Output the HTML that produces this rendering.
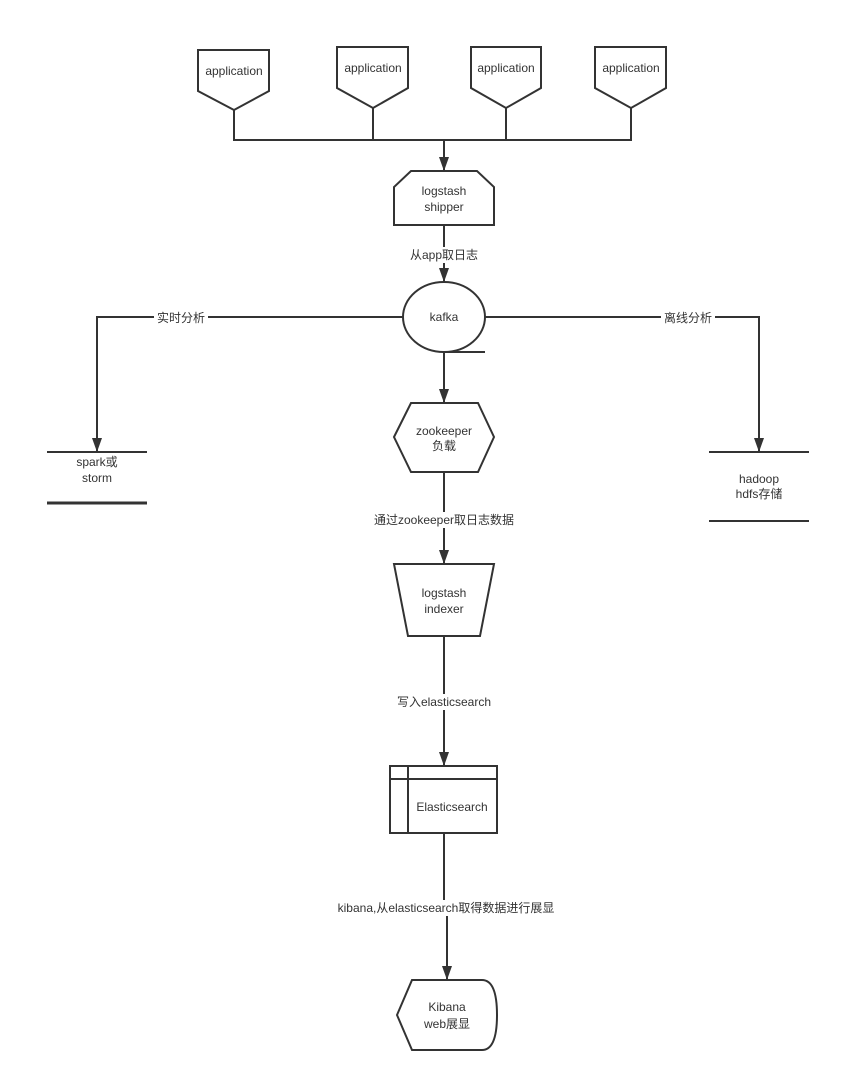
<!DOCTYPE html>
<html><head><meta charset="utf-8"><style>
html,body{margin:0;padding:0;background:#fff;}
svg{display:block;}
text{font-family:"Liberation Sans","Noto Sans CJK SC",sans-serif;font-size:12px;fill:#333;text-anchor:middle;}
</style></head><body>
<svg width="841" height="1082" viewBox="0 0 841 1082" xmlns="http://www.w3.org/2000/svg">
<defs><marker id="a" markerWidth="10" markerHeight="14" refX="5" refY="14" orient="auto" markerUnits="userSpaceOnUse"><path d="M0,0 L10,0 L5,14 Z" fill="#333"/></marker>
<marker id="ad" markerWidth="14" markerHeight="10" refX="14" refY="5" orient="auto" markerUnits="userSpaceOnUse" viewBox="0 0 14 10"><path d="M0,0 L14,5 L0,10 Z" fill="#333"/></marker></defs>
<g stroke="#333" stroke-width="2" fill="#fff">
<!-- apps -->
<path d="M198,50 H269 V91 L234,110 L198,91 Z"/>
<path d="M337,47 H408 V88 L373,108 L337,88 Z"/>
<path d="M471,47 H541 V88 L506,108 L471,88 Z"/>
<path d="M595,47 H666 V88 L631,108 L595,88 Z"/>
<path d="M234,110 V140 H631 V108 M373,108 V140 M506,108 V140" fill="none"/>
<path d="M444,140 V171" fill="none" marker-end="url(#ad)"/>
<!-- shipper -->
<path d="M411,171 H477 L494,187 V225 H394 V187 Z"/>
<path d="M444,225 V282" fill="none" marker-end="url(#ad)"/>
<!-- kafka -->
<ellipse cx="444" cy="317" rx="41" ry="35"/>
<path d="M444,352 H485" fill="none"/>
<path d="M444,352 V403" fill="none" marker-end="url(#ad)"/>
<path d="M403,317 H97 V452" fill="none" marker-end="url(#ad)"/>
<path d="M485,317 H759 V452" fill="none" marker-end="url(#ad)"/>
<path d="M47,452 H147" fill="none"/>
<path d="M47,503 H147" fill="none" stroke-width="3"/>
<path d="M709,452 H809 M709,521 H809" fill="none"/>
<!-- zookeeper -->
<path d="M394,437 L411,403 H478 L494,437 L478,472 H411 Z"/>
<path d="M444,472 V564" fill="none" marker-end="url(#ad)"/>
<!-- indexer -->
<path d="M394,564 H494 L480,636 H408 Z"/>
<path d="M444,636 V766" fill="none" marker-end="url(#ad)"/>
<!-- elasticsearch -->
<rect x="390" y="766" width="107" height="67"/>
<path d="M390,779 H497 M408,766 V833" fill="none"/>
<path d="M444,833 V908 M447,908 V980" fill="none"/>
<path d="M447,940 V980" fill="none" marker-end="url(#ad)"/>
<!-- kibana -->
<path d="M412,980 H482 Q497,980 497,1015 Q497,1050 482,1050 H412 L397,1015 Z"/>
</g>
<text x="234" y="75">application</text>
<text x="373" y="72">application</text>
<text x="506" y="72">application</text>
<text x="631" y="72">application</text>
<text x="444" y="195">logstash</text>
<text x="444" y="211">shipper</text>
<rect x="404" y="247" width="80" height="16" fill="#fff"/>
<text x="444" y="259">从app取日志</text>
<text x="444" y="321">kafka</text>
<rect x="154" y="310" width="54" height="16" fill="#fff"/>
<text x="181" y="322">实时分析</text>
<rect x="661" y="310" width="54" height="16" fill="#fff"/>
<text x="688" y="322">离线分析</text>
<text x="97" y="466">spark或</text>
<text x="97" y="482">storm</text>
<text x="759" y="483">hadoop</text>
<text x="759" y="498">hdfs存储</text>
<text x="444" y="435">zookeeper</text>
<text x="444" y="450">负载</text>
<rect x="366" y="512" width="156" height="16" fill="#fff"/>
<text x="444" y="524">通过zookeeper取日志数据</text>
<text x="444" y="597">logstash</text>
<text x="444" y="613">indexer</text>
<rect x="388" y="694" width="112" height="16" fill="#fff"/>
<text x="444" y="706">写入elasticsearch</text>
<text x="452" y="811">Elasticsearch</text>
<rect x="322" y="900" width="248" height="16" fill="#fff"/>
<text x="446" y="912">kibana,从elasticsearch取得数据进行展显</text>
<text x="447" y="1011">Kibana</text>
<text x="447" y="1028">web展显</text>
</svg>
</body></html>
